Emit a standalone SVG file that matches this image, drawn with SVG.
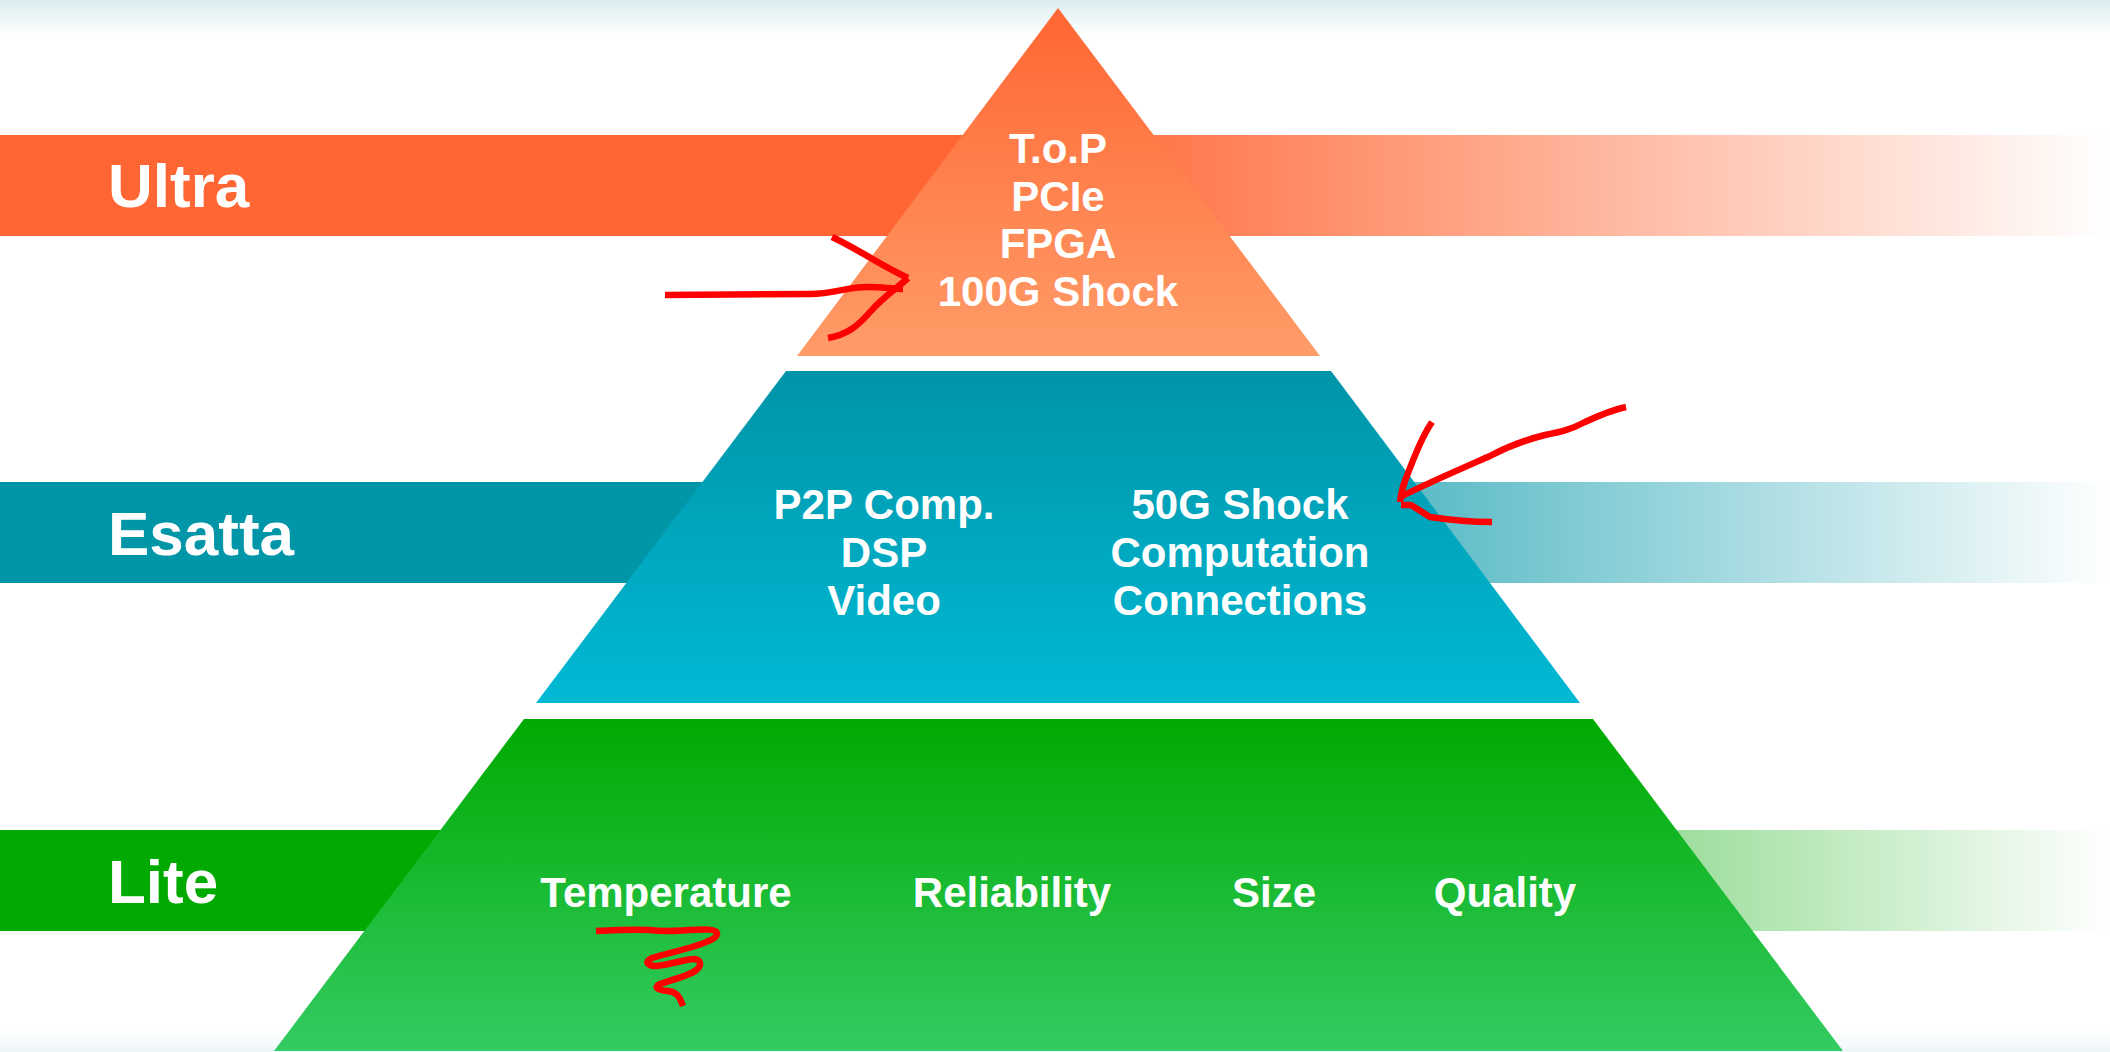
<svg xmlns="http://www.w3.org/2000/svg" width="2110" height="1052" viewBox="0 0 2110 1052">
  <style>
    .lbl { font-family: "Liberation Sans", Arial, sans-serif; font-weight: bold; fill: #ffffff; }
    .band { font-size: 62px; }
    .item { font-size: 42px; text-anchor: middle; }
    .ink { fill: none; stroke: #ff0000; stroke-width: 6.5; stroke-linecap: butt; stroke-linejoin: round; }
  </style>
  <defs>
    <linearGradient id="haze" x1="0" y1="0" x2="0" y2="1">
      <stop offset="0" stop-color="#dcedef"/>
      <stop offset="1" stop-color="#ffffff"/>
    </linearGradient>
    <linearGradient id="hazeBottom" x1="0" y1="0" x2="0" y2="1">
      <stop offset="0" stop-color="#ffffff"/>
      <stop offset="1" stop-color="#eef6f9"/>
    </linearGradient>
    <linearGradient id="bandUltra" gradientUnits="userSpaceOnUse" x1="0" y1="0" x2="2110" y2="0">
      <stop offset="0" stop-color="#ff6633"/>
      <stop offset="0.49" stop-color="#ff6633"/>
      <stop offset="1" stop-color="#ff6633" stop-opacity="0"/>
    </linearGradient>
    <linearGradient id="bandEsatta" gradientUnits="userSpaceOnUse" x1="0" y1="0" x2="2110" y2="0">
      <stop offset="0" stop-color="#0096a8"/>
      <stop offset="0.49" stop-color="#0096a8"/>
      <stop offset="1" stop-color="#0096a8" stop-opacity="0"/>
    </linearGradient>
    <linearGradient id="bandLite" gradientUnits="userSpaceOnUse" x1="0" y1="0" x2="2110" y2="0">
      <stop offset="0" stop-color="#00aa00"/>
      <stop offset="0.47" stop-color="#00aa00"/>
      <stop offset="1" stop-color="#00aa00" stop-opacity="0"/>
    </linearGradient>
    <linearGradient id="tierTop" x1="0" y1="0" x2="0" y2="1">
      <stop offset="0" stop-color="#ff6633"/>
      <stop offset="1" stop-color="#ff9c68"/>
    </linearGradient>
    <linearGradient id="tierMid" x1="0" y1="0" x2="0" y2="1">
      <stop offset="0" stop-color="#0094a8"/>
      <stop offset="1" stop-color="#00b9d4"/>
    </linearGradient>
    <linearGradient id="tierBase" x1="0" y1="0" x2="0" y2="1">
      <stop offset="0" stop-color="#00aa00"/>
      <stop offset="1" stop-color="#33cb63"/>
    </linearGradient>
  </defs>

  <!-- background -->
  <rect x="0" y="0" width="2110" height="1052" fill="#ffffff"/>
  <rect x="0" y="0" width="2110" height="36" fill="url(#haze)"/>
  <rect x="0" y="1030" width="2110" height="22" fill="url(#hazeBottom)"/>

  <!-- horizontal level bands -->
  <g id="band-ultra">
    <rect x="0" y="135" width="2110" height="101" fill="url(#bandUltra)"/>
    <text class="lbl band" x="108" y="207">Ultra</text>
  </g>
  <g id="band-esatta">
    <rect x="0" y="482" width="2110" height="101" fill="url(#bandEsatta)"/>
    <text class="lbl band" x="108" y="555">Esatta</text>
  </g>
  <g id="band-lite">
    <rect x="0" y="830" width="2110" height="101" fill="url(#bandLite)"/>
    <text class="lbl band" x="108" y="903">Lite</text>
  </g>

  <!-- pyramid tiers -->
  <g id="tier-ultra">
    <polygon points="1058,8 1320,356 797,356" fill="url(#tierTop)"/>
    <text class="lbl item" x="1058" y="163">T.o.P</text>
    <text class="lbl item" x="1058" y="211">PCIe</text>
    <text class="lbl item" x="1058" y="258">FPGA</text>
    <text class="lbl item" x="1058" y="306">100G Shock</text>
  </g>
  <g id="tier-esatta">
    <polygon points="786,371 1331,371 1580,703 536,703" fill="url(#tierMid)"/>
    <text class="lbl item" x="884" y="519">P2P Comp.</text>
    <text class="lbl item" x="884" y="567">DSP</text>
    <text class="lbl item" x="884" y="615">Video</text>
    <text class="lbl item" x="1240" y="519">50G Shock</text>
    <text class="lbl item" x="1240" y="567">Computation</text>
    <text class="lbl item" x="1240" y="615">Connections</text>
  </g>
  <g id="tier-lite">
    <polygon points="524,719 1593,719 1843,1051 274,1051" fill="url(#tierBase)"/>
    <text class="lbl item" x="666" y="907">Temperature</text>
    <text class="lbl item" x="1012" y="907">Reliability</text>
    <text class="lbl item" x="1274" y="907">Size</text>
    <text class="lbl item" x="1505" y="907">Quality</text>
  </g>

  <!-- hand-drawn red markup strokes -->
  <g id="connectors">
    <path class="ink" d="M665,295 L810,294 C835,294 845,287 868,287 C884,287 895,289 903,289"/>
    <path class="ink" d="M832,237 C856,248 880,265 908,278"/>
    <path class="ink" d="M908,278 C896,289 882,298 870,312 C857,327 846,335 828,338"/>

    <path class="ink" d="M1626,407 C1612,410 1600,415 1585,422 C1570,430 1560,432 1545,435 C1525,440 1505,448 1490,456 C1465,467 1430,482 1400,497"/>
    <path class="ink" d="M1432,422 C1422,437 1415,455 1406,478 C1402,488 1401,493 1400,502"/>
    <path class="ink" d="M1401,505 L1411,505 L1430,517 C1450,520 1470,522 1492,522"/>

    <path class="ink" d="M596,931 C615,930 635,929 650,930 C665,932 672,931 690,930 C705,929 716,929 717,933 C718,938 710,941 695,946 C680,951 660,955 652,958 C645,961 646,966 656,966 C670,965 685,959 694,959 C702,960 702,966 695,971 C688,976 668,981 660,984 C654,987 656,990 668,991 C676,992 679,995 683,1006"/>
  </g>
</svg>
